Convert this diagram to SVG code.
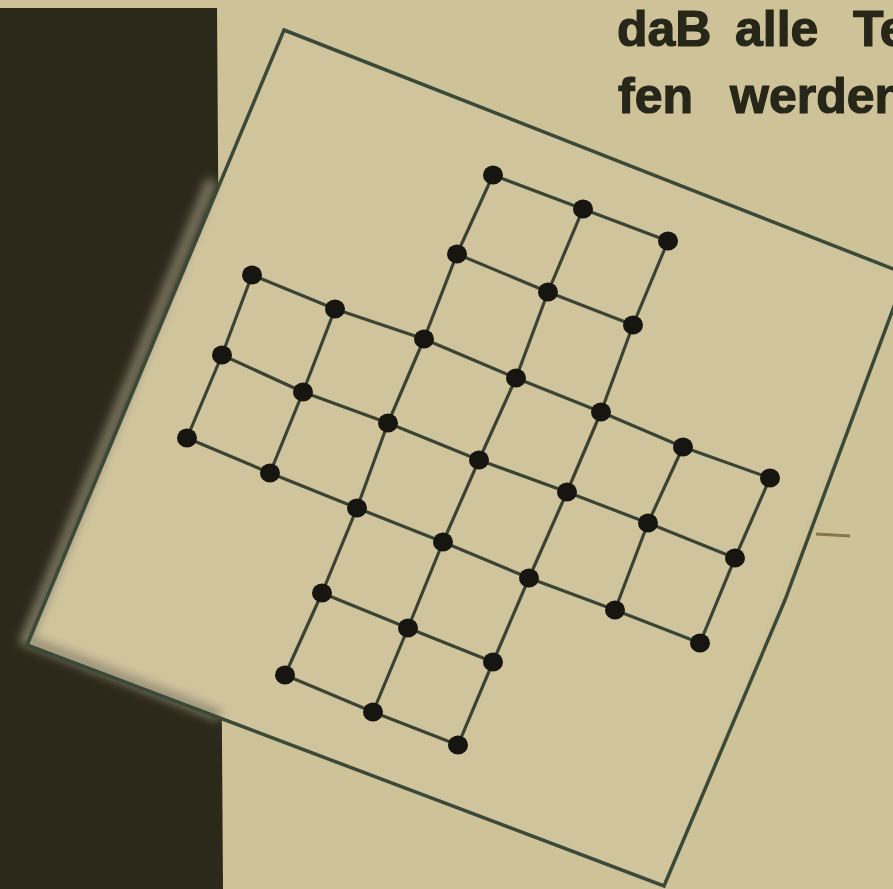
<svg xmlns="http://www.w3.org/2000/svg" width="893" height="889" viewBox="0 0 893 889">
<defs>
<style>
.grid{fill:none;stroke:#3b4434;stroke-width:3.2;stroke-linejoin:round;stroke-linecap:round}
.hole{fill:#16150f}
.edge{fill:none;stroke:#3b4a38;stroke-width:3.5;stroke-linejoin:miter}
.txt{font-family:"Liberation Sans",Arial,sans-serif;font-weight:bold;font-size:50px;fill:#262619;stroke:#262619;stroke-width:1.2}
</style>
<filter id="blur" x="-20%" y="-20%" width="140%" height="140%"><feGaussianBlur stdDeviation="5"/></filter>
</defs>
<rect x="0" y="0" width="893" height="889" fill="#cec299"/>
<polygon points="0,8 217,8 223,889 0,889" fill="#2c291b"/>
<g id="board">
<polygon points="284,30 906,274 664,886 27,645" fill="#d0c49d"/>
<path d="M212,180 L26,640 L220,716" fill="none" stroke="#8c8670" stroke-width="12" filter="url(#blur)" opacity="0.8"/>
<path d="M284,30 L906,274 L785,600 L664,886 L27,645 Z" class="edge"/>
</g>
<path d="M816,534 L850,536" stroke="#8a7448" stroke-width="3" fill="none"/>
<g id="connectors">
<polyline class="grid" points="493,175 583,209 668,241"/>
<polyline class="grid" points="457,254 548,292 633,325"/>
<polyline class="grid" points="252,275 335,309 424,339 516,378 601,412 683,447 770,478"/>
<polyline class="grid" points="222,355 303,392 388,423 479,460 567,492 648,523 735,558"/>
<polyline class="grid" points="187,438 270,473 357,508 443,542 529,578 615,610 700,643"/>
<polyline class="grid" points="322,593 408,628 493,662"/>
<polyline class="grid" points="285,675 373,712 458,745"/>
<polyline class="grid" points="252,275 222,355 187,438"/>
<polyline class="grid" points="335,309 303,392 270,473"/>
<polyline class="grid" points="493,175 457,254 424,339 388,423 357,508 322,593 285,675"/>
<polyline class="grid" points="583,209 548,292 516,378 479,460 443,542 408,628 373,712"/>
<polyline class="grid" points="668,241 633,325 601,412 567,492 529,578 493,662 458,745"/>
<polyline class="grid" points="683,447 648,523 615,610"/>
<polyline class="grid" points="770,478 735,558 700,643"/>
</g>
<g id="holes">
<ellipse class="hole" cx="493" cy="175" rx="10" ry="9.5"/>
<ellipse class="hole" cx="583" cy="209" rx="10" ry="9.5"/>
<ellipse class="hole" cx="668" cy="241" rx="10" ry="9.5"/>
<ellipse class="hole" cx="457" cy="254" rx="10" ry="9.5"/>
<ellipse class="hole" cx="548" cy="292" rx="10" ry="9.5"/>
<ellipse class="hole" cx="633" cy="325" rx="10" ry="9.5"/>
<ellipse class="hole" cx="252" cy="275" rx="10" ry="9.5"/>
<ellipse class="hole" cx="335" cy="309" rx="10" ry="9.5"/>
<ellipse class="hole" cx="424" cy="339" rx="10" ry="9.5"/>
<ellipse class="hole" cx="516" cy="378" rx="10" ry="9.5"/>
<ellipse class="hole" cx="601" cy="412" rx="10" ry="9.5"/>
<ellipse class="hole" cx="683" cy="447" rx="10" ry="9.5"/>
<ellipse class="hole" cx="770" cy="478" rx="10" ry="9.5"/>
<ellipse class="hole" cx="222" cy="355" rx="10" ry="9.5"/>
<ellipse class="hole" cx="303" cy="392" rx="10" ry="9.5"/>
<ellipse class="hole" cx="388" cy="423" rx="10" ry="9.5"/>
<ellipse class="hole" cx="479" cy="460" rx="10" ry="9.5"/>
<ellipse class="hole" cx="567" cy="492" rx="10" ry="9.5"/>
<ellipse class="hole" cx="648" cy="523" rx="10" ry="9.5"/>
<ellipse class="hole" cx="735" cy="558" rx="10" ry="9.5"/>
<ellipse class="hole" cx="187" cy="438" rx="10" ry="9.5"/>
<ellipse class="hole" cx="270" cy="473" rx="10" ry="9.5"/>
<ellipse class="hole" cx="357" cy="508" rx="10" ry="9.5"/>
<ellipse class="hole" cx="443" cy="542" rx="10" ry="9.5"/>
<ellipse class="hole" cx="529" cy="578" rx="10" ry="9.5"/>
<ellipse class="hole" cx="615" cy="610" rx="10" ry="9.5"/>
<ellipse class="hole" cx="700" cy="643" rx="10" ry="9.5"/>
<ellipse class="hole" cx="322" cy="593" rx="10" ry="9.5"/>
<ellipse class="hole" cx="408" cy="628" rx="10" ry="9.5"/>
<ellipse class="hole" cx="493" cy="662" rx="10" ry="9.5"/>
<ellipse class="hole" cx="285" cy="675" rx="10" ry="9.5"/>
<ellipse class="hole" cx="373" cy="712" rx="10" ry="9.5"/>
<ellipse class="hole" cx="458" cy="745" rx="10" ry="9.5"/>
</g>
<g id="caption">
<text class="txt" y="46"><tspan x="617">daB</tspan><tspan x="735">alle</tspan><tspan x="853">Te</tspan></text>
<text class="txt" y="113"><tspan x="618">fen</tspan><tspan x="730">werden</tspan></text>
</g>
</svg>
